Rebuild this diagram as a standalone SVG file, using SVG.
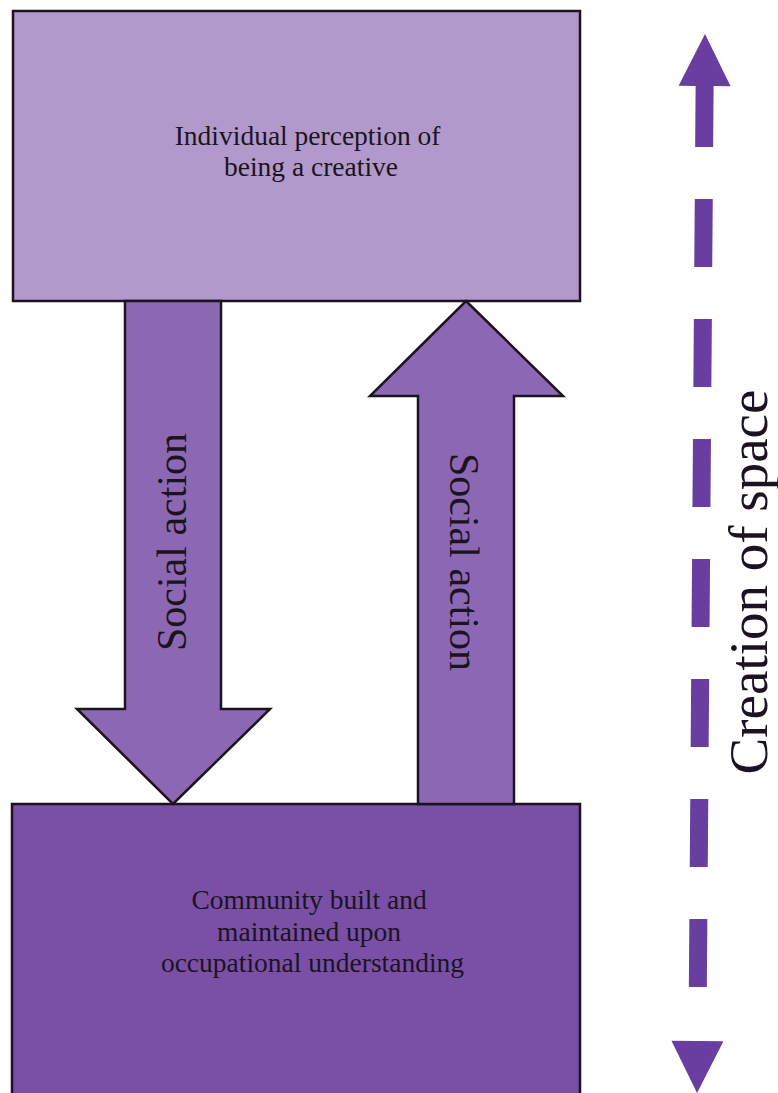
<svg xmlns="http://www.w3.org/2000/svg" width="778" height="1093" viewBox="0 0 778 1093">
  <style>
    .box { stroke: #1c1320; stroke-width: 2.5; }
    .arrow { fill: #8c68b4; stroke: #1c1320; stroke-width: 2.5; stroke-linejoin: miter; }
    .label { fill: #1c1320; text-anchor: middle; }
    .dash { fill: #6a3da0; }
  </style>

  <rect width="778" height="1093" fill="#ffffff"/>

  <!-- upper box -->
  <g id="node-individual">
    <rect class="box" x="13" y="11" width="567" height="290" fill="#b19acb"/>
    <text class="label" font-family="Liberation Serif" font-size="27.5">
      <tspan x="311" y="145">Individual perception of</tspan>
      <tspan x="311" y="176">being a creative</tspan>
    </text>
  </g>

  <!-- lower box -->
  <g id="node-community">
    <rect class="box" x="12" y="804" width="568" height="300" fill="#7a4fa6"/>
    <text class="label" font-family="Liberation Serif" font-size="27.5">
      <tspan x="312.5" y="909">Community built and</tspan>
      <tspan x="312.5" y="941">maintained upon</tspan>
      <tspan x="312.5" y="972">occupational understanding</tspan>
    </text>
  </g>

  <!-- block arrows between the boxes -->
  <g id="connectors">
    <g id="edge-down">
      <polygon class="arrow" points="125,301 221,301 221,709 270,709 173,804 77,709 125,709"/>
      <text class="label" font-family="Liberation Serif" font-size="42" transform="translate(186,542) rotate(-90)">Social action</text>
    </g>
    <g id="edge-up">
      <polygon class="arrow" points="466,301 563,396 514,396 514,804 418,804 418,396 370,396"/>
      <text class="label" font-family="Liberation Serif" font-size="42" transform="translate(450,562) rotate(90)">Social action</text>
    </g>

    <!-- dashed double-headed arrow on the right -->
    <g id="edge-space">
      <g transform="rotate(0.43 705 34)">
        <polygon class="dash" points="705,34 731,86 714,86 714,147 696,147 696,86 679,86"/>
        <rect class="dash" x="696" y="199" width="18" height="68"/>
        <rect class="dash" x="696" y="319" width="18" height="68"/>
        <rect class="dash" x="696" y="439" width="18" height="68"/>
        <rect class="dash" x="696" y="559" width="18" height="68"/>
        <rect class="dash" x="696" y="679" width="18" height="68"/>
        <rect class="dash" x="696" y="799" width="18" height="68"/>
        <rect class="dash" x="696" y="919" width="18" height="68"/>
        <polygon class="dash" points="679,1041 731,1041 705,1093"/>
      </g>
      <text class="label" font-family="Liberation Serif" font-size="55" transform="translate(767,582) rotate(-90)">Creation of space</text>
    </g>
  </g>
</svg>
